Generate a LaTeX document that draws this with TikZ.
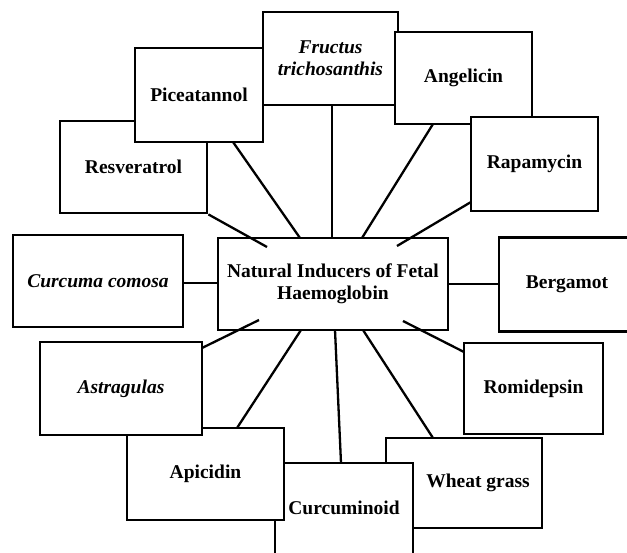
\documentclass[tikz,border=0pt]{standalone}
\usepackage{fontspec}
\setmainfont{Liberation Serif}
\begin{document}
\begin{tikzpicture}[x=1pt,y=-1pt,
  txt/.style={align=center,inner sep=0pt,font=\fontsize{19.5}{22}\selectfont\bfseries},
  box/.style={txt,draw=black,line width=2.8pt,fill=white},
  conn/.style={draw=black,line width=2.3pt}]
\useasboundingbox (0,0) rectangle (627,553);
\clip (0,0) rectangle (627,553);
% boxes (drawing order matters for overlaps)
\node[box,minimum width=147pt,minimum height=92pt] (resv) at (133.5,167) {Resveratrol};
\node[box,minimum width=128pt,minimum height=94pt] (pice) at (199,95) {Piceatannol};
\node[box,minimum width=135pt,minimum height=93pt] (fruc) at (330.5,58.5) {\itshape Fructus\\\itshape trichosanthis};
\node[box,minimum width=137pt,minimum height=92pt] (ange) at (463.5,78) {Angelicin};
\node[box,minimum width=127pt,minimum height=94pt] (rapa) at (534.5,164) {Rapamycin};
\node[box,minimum width=170pt,minimum height=92pt] (curc) at (98,281) {\itshape Curcuma comosa};
\node[box,minimum width=230pt,minimum height=92pt] (hub) at (333,284) {Natural Inducers of Fetal\\Haemoglobin};
\node[box,minimum width=170pt,minimum height=94pt] (berg) at (584,284.5) {};
\node[txt] (bergtxt) at (567,284) {Bergamot};
\node[box,minimum width=139pt,minimum height=91pt] (romi) at (533.5,388.5) {Romidepsin};
\node[box,minimum width=156pt,minimum height=90pt] (whea) at (464,483) {};
\node[txt] (wheatxt) at (478,483) {Wheat grass};
\node[box,minimum width=138pt,minimum height=120pt] (curm) at (344,523) {};
\node[txt] (curmtxt) at (344,508) {Curcuminoid};
\node[box,minimum width=157pt,minimum height=92pt] (apic) at (205.5,474) {Apicidin};
\node[box,minimum width=162pt,minimum height=93pt] (astr) at (121,388.5) {\itshape Astragulas};
% connector end points
\coordinate (h1) at (267,247);
\coordinate (h2) at (300,238);
\coordinate (h3) at (332,238);
\coordinate (h4) at (362,238);
\coordinate (h5) at (397,246);
\coordinate (h6) at (218,283);
\coordinate (h7) at (448,284);
\coordinate (h8) at (259,320);
\coordinate (h9) at (301,330);
\coordinate (h10) at (335,330);
\coordinate (h11) at (363,330);
\coordinate (h12) at (403,321);
\coordinate (o2) at (233,142);
\coordinate (o3) at (332,105);
\coordinate (o4) at (433,124);
\coordinate (o5) at (471,202);
\coordinate (o8) at (202,348);
\coordinate (o9) at (237,428);
\coordinate (o10) at (341,463);
\coordinate (o11) at (433,438);
\coordinate (o12) at (464,352);
% connectors
\draw[conn] (resv.south east) -- (h1);
\draw[conn] (o2) -- (h2);
\draw[conn] (o3) -- (h3);
\draw[conn] (o4) -- (h4);
\draw[conn] (o5) -- (h5);
\draw[conn] (h6 -| curc.east) -- (h6);
\draw[conn] (h7) -- (h7 -| berg.west);
\draw[conn] (o8) -- (h8);
\draw[conn] (o9) -- (h9);
\draw[conn] (h10) -- (o10);
\draw[conn] (h11) -- (o11);
\draw[conn] (h12) -- (o12);
\end{tikzpicture}
\end{document}
